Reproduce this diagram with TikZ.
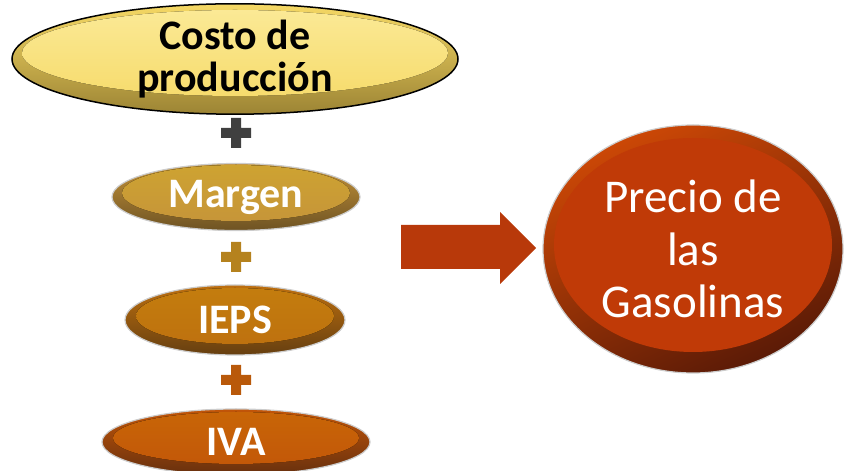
\documentclass[tikz,border=0pt]{standalone}
\usepackage{fontspec}
\setmainfont{Carlito}
\usetikzlibrary{shapes.geometric}

\definecolor{gelb}{HTML}{F6D965}
\definecolor{gelbhell}{HTML}{FBEA98}
\definecolor{gelbdunkel}{HTML}{9C8434}
\definecolor{margenfarbe}{HTML}{C5933A}
\definecolor{margendunkel}{HTML}{6E5323}
\definecolor{iepsfarbe}{HTML}{BD6F0F}
\definecolor{iepsdunkel}{HTML}{663F10}
\definecolor{ivafarbe}{HTML}{C25508}
\definecolor{ivadunkel}{HTML}{67300E}
\definecolor{preciofarbe}{HTML}{C03A07}
\definecolor{preciodunkel}{HTML}{5A1A06}
\definecolor{plusgrau}{HTML}{404040}
\definecolor{plusgold}{HTML}{B5821E}
\definecolor{plusorange}{HTML}{B9590A}
\definecolor{pfeilfarbe}{HTML}{B8390A}

\tikzset{
  schale/.style={ellipse, inner sep=0pt, draw=black!20, line width=1.2pt, align=center},
  innen/.style n args={4}{path picture={
      \fill[#1] ([yshift=#2]path picture bounding box.center) ellipse (#3 and #4);}},
  fett/.style={text=white, font=\bfseries\fontsize{42}{42}\selectfont},
}

\begin{document}
\begin{tikzpicture}[x=1pt, y=1pt]
  \useasboundingbox (0,0) rectangle (844,471);

  % Summanden
  \node[schale, draw=black, line width=1.5pt, minimum width=446pt, minimum height=97pt,
        top color=gelb, bottom color=gelbdunkel,
        innen={top color=gelbhell, bottom color=gelb}{6pt}{213}{43},
        fett, text=black] (costo) at (235,412) {Costo de\\producci\'on};

  \node[schale, minimum width=248pt, minimum height=67pt,
        top color=margenfarbe, bottom color=margendunkel,
        innen={top color=margenfarbe!85!yellow, bottom color=margenfarbe}{4pt}{114}{28}, fett]
        (margen) at (236,274) {Margen};

  \node[schale, minimum width=220pt, minimum height=70pt,
        top color=iepsfarbe, bottom color=iepsdunkel,
        innen={top color=iepsfarbe!90!yellow, bottom color=iepsfarbe}{4pt}{99}{28}, fett]
        (ieps) at (235,151) {IEPS};

  \node[schale, minimum width=268pt, minimum height=66pt,
        top color=ivafarbe, bottom color=ivadunkel,
        innen={top color=ivafarbe!90!yellow, bottom color=ivafarbe}{4pt}{123}{26}, fett]
        (iva) at (236,29) {IVA};

  % Pluszeichen
  \foreach \y/\farbe in {338/plusgrau, 214/plusgold, 91/plusorange}
    \fill[\farbe] (221,\y-5) rectangle (251,\y+5) (231,\y-15) rectangle (241,\y+15);

  % Pfeil
  \fill[pfeilfarbe] (401,202) -- (500,202) -- (500,187) -- (536,223)
    -- (500,259) -- (500,246) -- (401,246) -- cycle;

  % Ergebnis
  \node[schale, minimum width=300pt, minimum height=248pt,
        top color=preciofarbe!80!orange, bottom color=preciodunkel, shading angle=25,
        innen={preciofarbe}{4pt}{139}{107},
        text=white, font=\fontsize{47}{52.5}\selectfont] (precio) at (693,222)
        {Precio de\\las\\Gasolinas};
\end{tikzpicture}
\end{document}
